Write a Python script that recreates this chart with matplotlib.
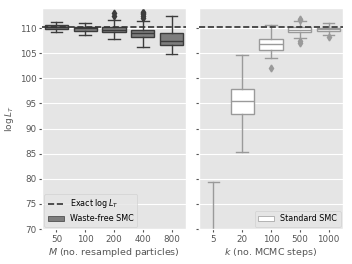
import matplotlib
matplotlib.use("Agg")
import matplotlib.pyplot as plt
from matplotlib.patches import Patch
from matplotlib.lines import Line2D

plt.style.use("ggplot")

exact_logL = 110.3

# Waste-free SMC (M)
wf_labels = ["50", "100", "200", "400", "800"]
wf_whislo = [109.3, 108.7, 107.9, 106.3, 104.9]
wf_q1 = [109.9, 109.5, 109.2, 108.2, 106.7]
wf_med = [110.3, 110.0, 109.7, 109.0, 107.4]
wf_q3 = [110.6, 110.3, 110.2, 109.7, 109.1]
wf_whishi = [111.3, 111.1, 111.7, 111.5, 112.4]
wf_fliers = [[], [], [112.5, 113.0], [112.0, 112.4, 112.8, 113.1, 113.3], []]

# Standard SMC (k)
st_labels = ["5", "20", "100", "500", "1000"]
st_whislo = [45.0, 85.4, 104.1, 108.0, 108.7]
st_q1 = [55.0, 92.8, 105.6, 109.2, 109.5]
st_med = [61.0, 95.5, 106.9, 109.7, 109.9]
st_q3 = [67.0, 97.9, 107.9, 110.2, 110.1]
st_whishi = [79.3, 104.7, 110.7, 111.4, 111.1]
st_fliers = [[], [], [102.1], [107.1, 107.5, 111.7, 111.9], [108.2]]


def stats(lo, q1, med, q3, hi, fl, labels):
    return [dict(whislo=a, q1=b, med=c, q3=d, whishi=e, fliers=f, label=g)
            for a, b, c, d, e, f, g in zip(lo, q1, med, q3, hi, fl, labels)]


fig = plt.figure(figsize=(3.52, 2.64), dpi=100)
ax1 = fig.add_axes([42 / 352, 35 / 264, 144 / 352, 221 / 264])
ax2 = fig.add_axes([199 / 352, 35 / 264, 144 / 352, 221 / 264], sharey=ax1)


def draw(ax, st, face, edge, lw):
    ax.bxp(st, positions=range(len(st)), widths=0.8, patch_artist=True,
           boxprops=dict(facecolor=face, edgecolor=edge, linewidth=lw),
           medianprops=dict(color=edge, linewidth=lw),
           whiskerprops=dict(color=edge, linewidth=lw),
           capprops=dict(color=edge, linewidth=lw),
           flierprops=dict(marker="d", markerfacecolor=edge, markeredgecolor=edge,
                           markersize=3.5))


draw(ax1, stats(wf_whislo, wf_q1, wf_med, wf_q3, wf_whishi, wf_fliers, wf_labels),
     "#7d7d7d", "#3c3c3c", 1.0)
draw(ax2, stats(st_whislo, st_q1, st_med, st_q3, st_whishi, st_fliers, st_labels),
     "white", "#9a9a9a", 1.0)

for ax in (ax1, ax2):
    ax.axhline(exact_logL, color="#333333", linestyle="--", linewidth=1.2, zorder=5)
    ax.set_xlim(-0.5, 4.5)
    ax.tick_params(labelsize=6.3, colors="#555555", length=2, pad=2)
    ax.grid(axis="x", visible=False)

ax1.set_ylim(70, 114)
ax1.set_yticks([70, 75, 80, 85, 90, 95, 100, 105, 110])
plt.setp(ax2.get_yticklabels(), visible=False)

ax1.set_ylabel(r"$\log L_T$", fontsize=6.5, color="#555555", labelpad=3)
ax1.set_xlabel(r"$M$ (no. resampled particles)", fontsize=6.8, color="#555555",
               labelpad=2)
ax2.set_xlabel(r"$k$ (no. MCMC steps)", fontsize=6.8, color="#555555", labelpad=2)

h1 = [Line2D([], [], color="#333333", linestyle="--", linewidth=1.2),
      Patch(facecolor="#7d7d7d", edgecolor="#3c3c3c")]
ax1.legend(h1, [r"Exact $\log L_T$", "Waste-free SMC"], loc="lower left",
           fontsize=5.8, frameon=True, borderaxespad=0.3)
ax2.legend([Patch(facecolor="white", edgecolor="#9a9a9a")], ["Standard SMC"],
           loc="lower right", fontsize=5.8, frameon=True, borderaxespad=0.3)

fig.savefig("out.png", dpi=100)
